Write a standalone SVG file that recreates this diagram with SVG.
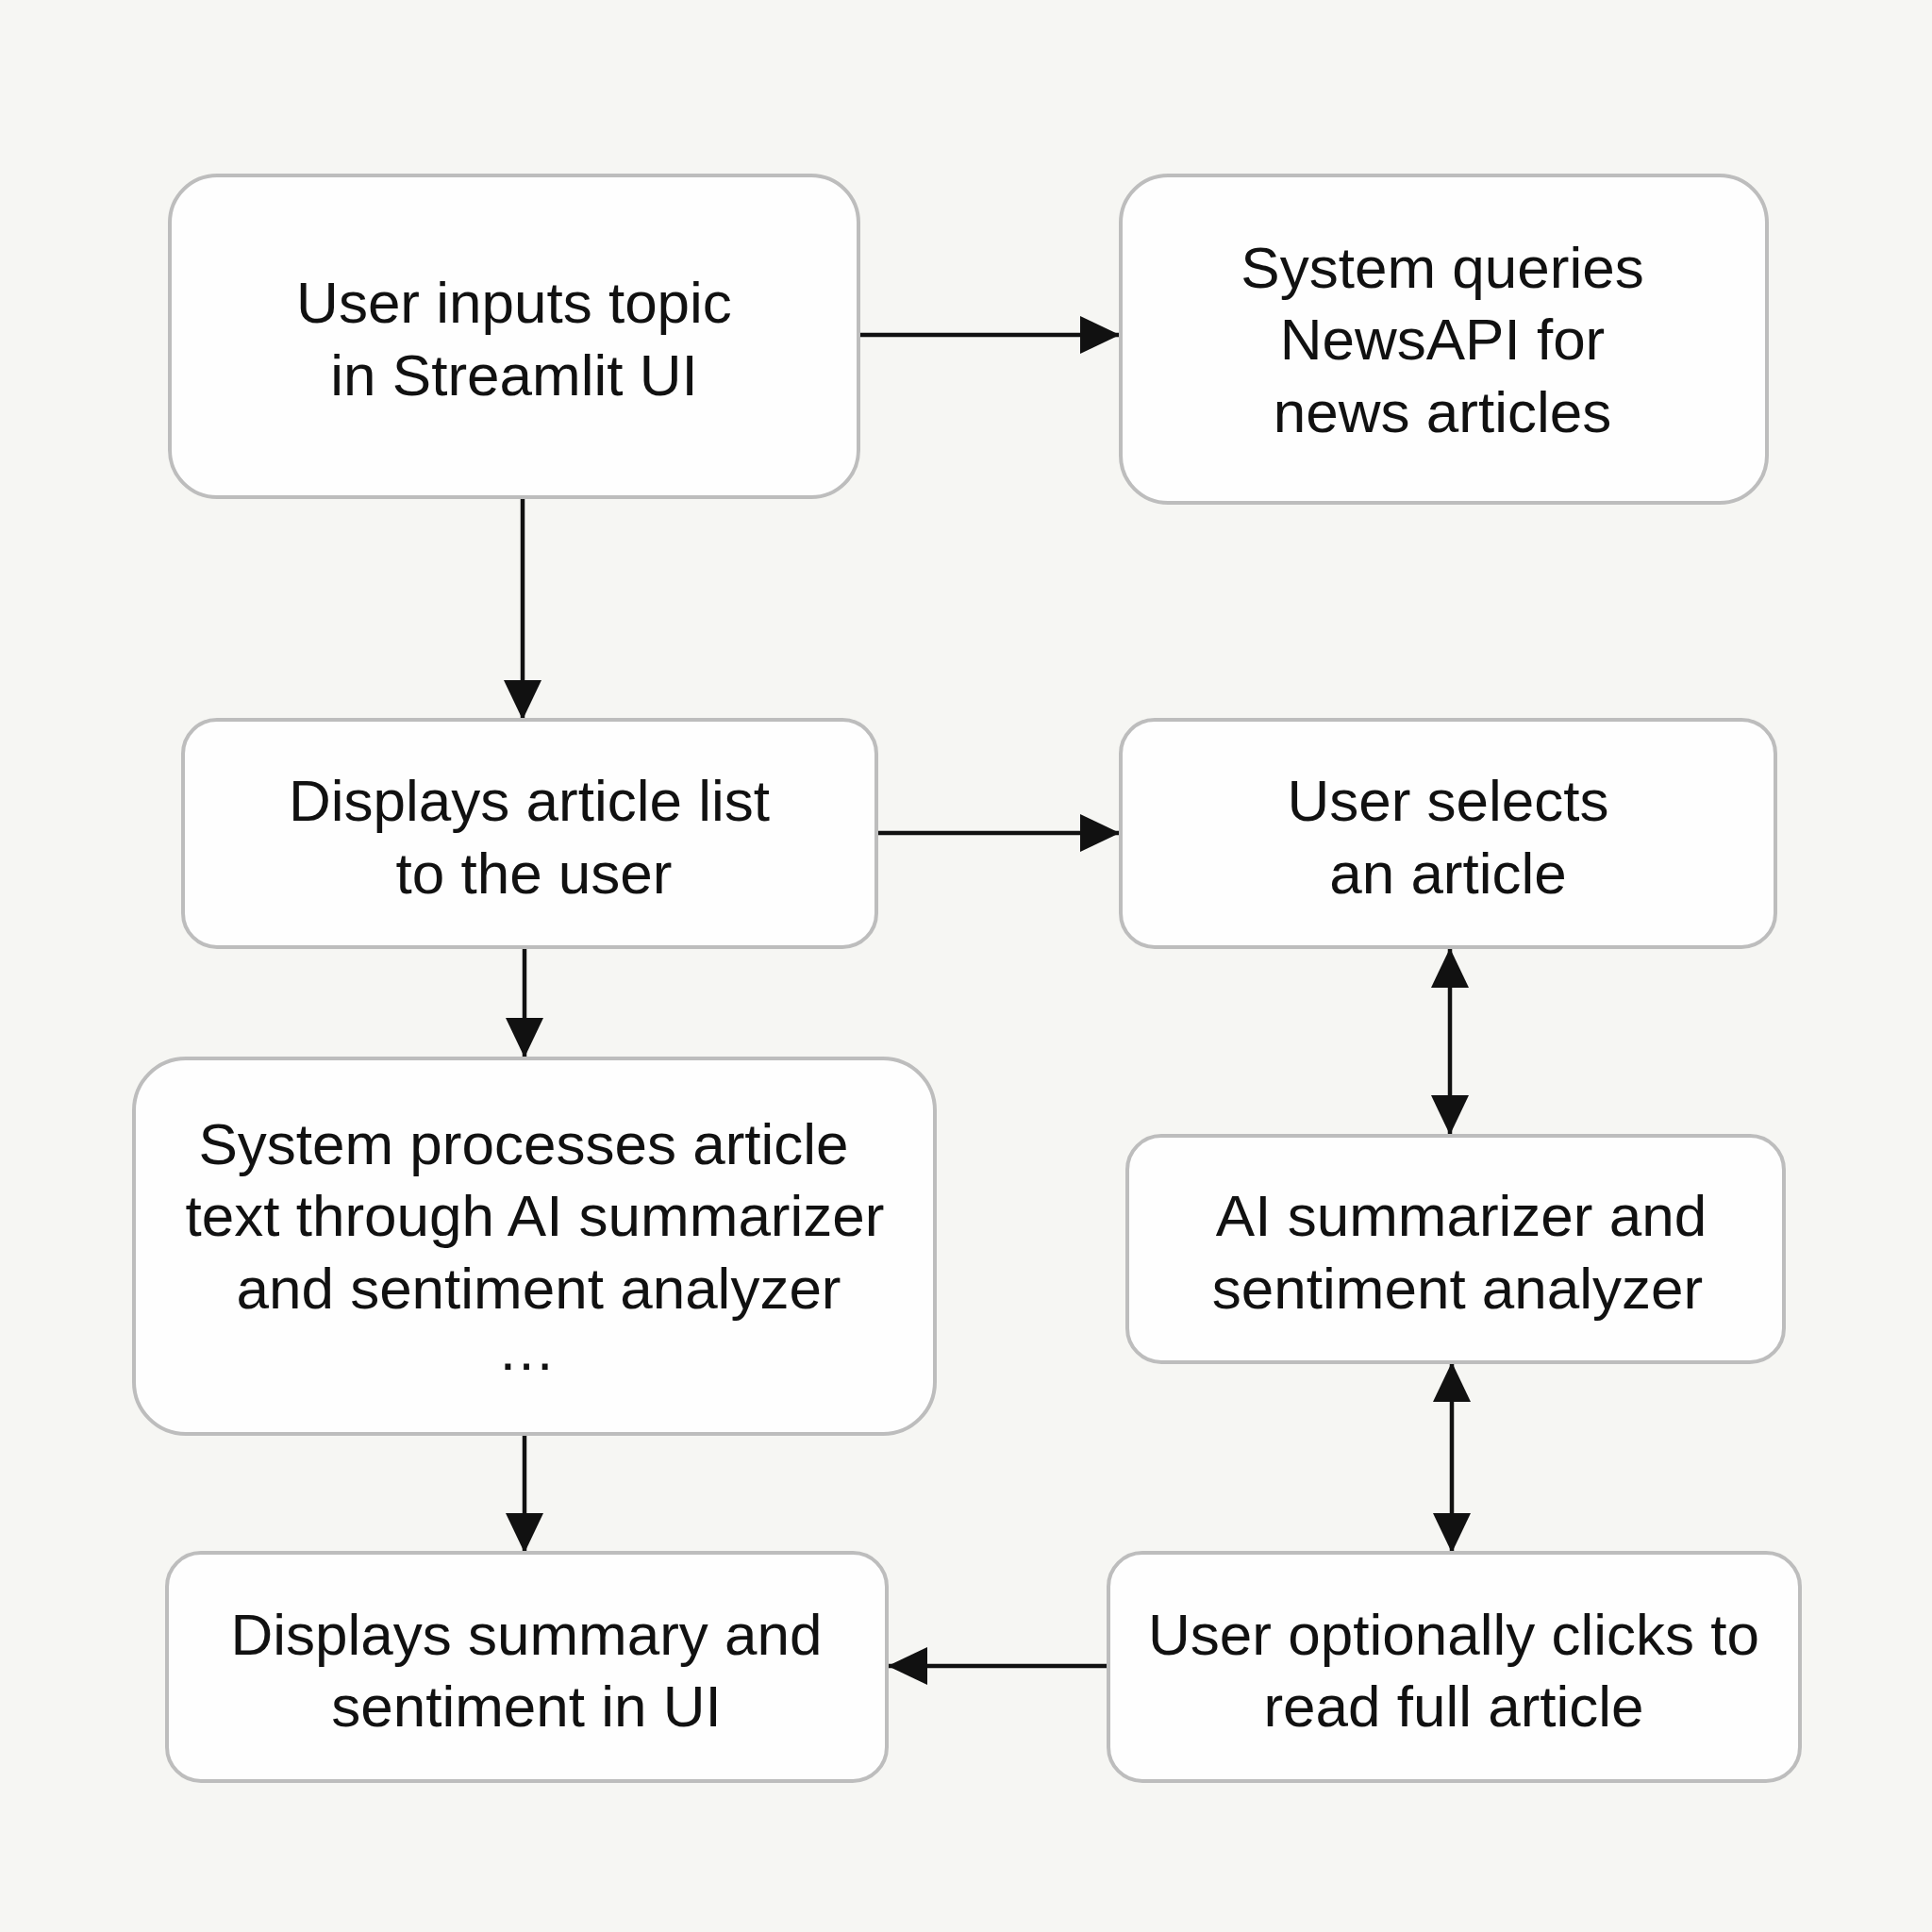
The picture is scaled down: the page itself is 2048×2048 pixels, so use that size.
<svg xmlns="http://www.w3.org/2000/svg" width="2048" height="2048" viewBox="0 0 2048 2048">
<defs>
<style>
.node rect{fill:#fefefe;stroke:#bdbdbd;stroke-width:4}
.node text{font-family:"Liberation Sans",Arial,sans-serif;font-size:62px;fill:#111;text-anchor:middle}
.conn line{stroke:#111;stroke-width:4.5;fill:none}
</style>
<marker id="ah" markerUnits="userSpaceOnUse" markerWidth="42" markerHeight="40" refX="42" refY="20" orient="auto-start-reverse" viewBox="0 0 42 40">
<path d="M0,0 L42,20 L0,40 z" fill="#111"/>
</marker>
</defs>
<rect x="0" y="0" width="2048" height="2048" fill="#f6f6f3"/>
<g class="conn" id="connectors">
<line x1="911" y1="355" x2="1187" y2="355" marker-end="url(#ah)"/>
<line x1="554" y1="528" x2="554" y2="763" marker-end="url(#ah)"/>
<line x1="930" y1="883" x2="1187" y2="883" marker-end="url(#ah)"/>
<line x1="556" y1="1005" x2="556" y2="1121" marker-end="url(#ah)"/>
<line x1="1537" y1="1005" x2="1537" y2="1203" marker-start="url(#ah)" marker-end="url(#ah)"/>
<line x1="556" y1="1521" x2="556" y2="1646" marker-end="url(#ah)"/>
<line x1="1539" y1="1444" x2="1539" y2="1646" marker-start="url(#ah)" marker-end="url(#ah)"/>
<line x1="1175" y1="1766" x2="941" y2="1766" marker-end="url(#ah)"/>
</g>
<g class="node" id="n1">
<rect x="180" y="186" width="730" height="341" rx="50"/>
<text x="545" y="342">User inputs topic</text>
<text x="545" y="419">in Streamlit UI</text>
</g>
<g class="node" id="n2">
<rect x="1188" y="186" width="685" height="347" rx="50"/>
<text x="1529" y="305">System queries</text>
<text x="1529" y="381">NewsAPI for</text>
<text x="1529" y="458">news articles</text>
</g>
<g class="node" id="n3">
<rect x="194" y="763" width="735" height="241" rx="36"/>
<text x="561" y="870">Displays article list</text>
<text x="566" y="947">to the user</text>
</g>
<g class="node" id="n4">
<rect x="1188" y="763" width="694" height="241" rx="36"/>
<text x="1535" y="870">User selects</text>
<text x="1535" y="947">an article</text>
</g>
<g class="node" id="n5">
<rect x="142" y="1122" width="849" height="398" rx="55"/>
<text x="555" y="1234">System processes article</text>
<text x="567" y="1310">text through AI summarizer</text>
<text x="571" y="1387">and sentiment analyzer</text>
<text x="558" y="1452">…</text>
</g>
<g class="node" id="n6">
<rect x="1195" y="1204" width="696" height="240" rx="36"/>
<text x="1549" y="1310">AI summarizer and</text>
<text x="1545" y="1387">sentiment analyzer</text>
</g>
<g class="node" id="n7">
<rect x="177" y="1646" width="763" height="242" rx="36"/>
<text x="558" y="1754">Displays summary and</text>
<text x="558" y="1830">sentiment in UI</text>
</g>
<g class="node" id="n8">
<rect x="1175" y="1646" width="733" height="242" rx="36"/>
<text x="1541" y="1754">User optionally clicks to</text>
<text x="1541" y="1830">read full article</text>
</g>
</svg>
